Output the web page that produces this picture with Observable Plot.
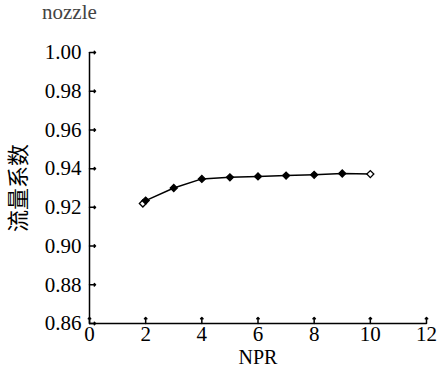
<!DOCTYPE html>
<html><head><meta charset="utf-8">
<script src="https://cdn.jsdelivr.net/npm/d3@7"></script>
<script src="https://cdn.jsdelivr.net/npm/@observablehq/plot@0.6"></script>
<style>
body{margin:0;background:#fff;}
#title{height:30px;line-height:30px;padding-left:42px;font:21px "Liberation Serif",serif;color:#444;}
</style></head>
<body>
<div id="title">nozzle</div>
<div id="chart"></div>
<script>
const npr = [1.9, 2.0, 3, 4, 5, 6, 7, 8, 9, 10];
const cd = [0.922, 0.9235, 0.930, 0.9347, 0.9355, 0.936, 0.9364, 0.9368, 0.9375, 0.9372];
const xTicks = [0, 2, 4, 6, 8, 10, 12];
const yTicks = [0.86, 0.88, 0.90, 0.92, 0.94, 0.96, 0.98, 1.00];
const xLabel = "NPR";
const yLabel = "流量系数";

const data = npr.map((x, i) => ({x, y: cd[i], i}));
const n = data.length;

const plot = Plot.plot({
  width: 437, height: 340,
  marginLeft: 89, marginRight: 11, marginTop: 22, marginBottom: 47,
  style: {fontFamily: '"Liberation Serif", serif', fontSize: "21px", color: "black", background: "white"},
  x: {domain: [0, 12]},
  y: {domain: [0.86, 1.00]},
  marks: [
    Plot.axisX(xTicks, {tickSize: 0, tickPadding: 3, label: null, tickFormat: d3.format("d")}),
    Plot.axisY(yTicks, {tickSize: 0, tickPadding: 8, label: null, tickFormat: d3.format(".2f")}),
    Plot.vector(xTicks, {x: d => d, frameAnchor: "bottom", length: 6, rotate: 0, anchor: "start", stroke: "black", strokeWidth: 1.5}),
    Plot.vector(yTicks, {y: d => d, frameAnchor: "left", length: 6, rotate: 90, anchor: "start", stroke: "black", strokeWidth: 1.5}),
    Plot.ruleX([0], {stroke: "black", strokeWidth: 1.5}),
    Plot.ruleY([0.86], {stroke: "black", strokeWidth: 1.5}),
    Plot.line(data, {x: "x", y: "y", stroke: "black", strokeWidth: 1.5}),
    Plot.dot(data, {x: "x", y: "y", symbol: "square", rotate: 45, r: 2.8, stroke: "black", strokeWidth: 1.3,
      fill: d => (d.i === 0 || d.i === n - 1) ? "white" : "black"}),
    Plot.text([xLabel], {text: d => d, frameAnchor: "bottom", textAnchor: "middle", dy: 34, lineAnchor: "middle", fontSize: 20}),
    Plot.text([yLabel], {text: d => d, frameAnchor: "left", textAnchor: "middle", lineAnchor: "middle", dx: -71, rotate: -90, fontSize: 22,
      fontFamily: '"Noto Sans CJK SC", sans-serif'})
  ]
});
document.getElementById("chart").appendChild(plot);
</script>
</body></html>
